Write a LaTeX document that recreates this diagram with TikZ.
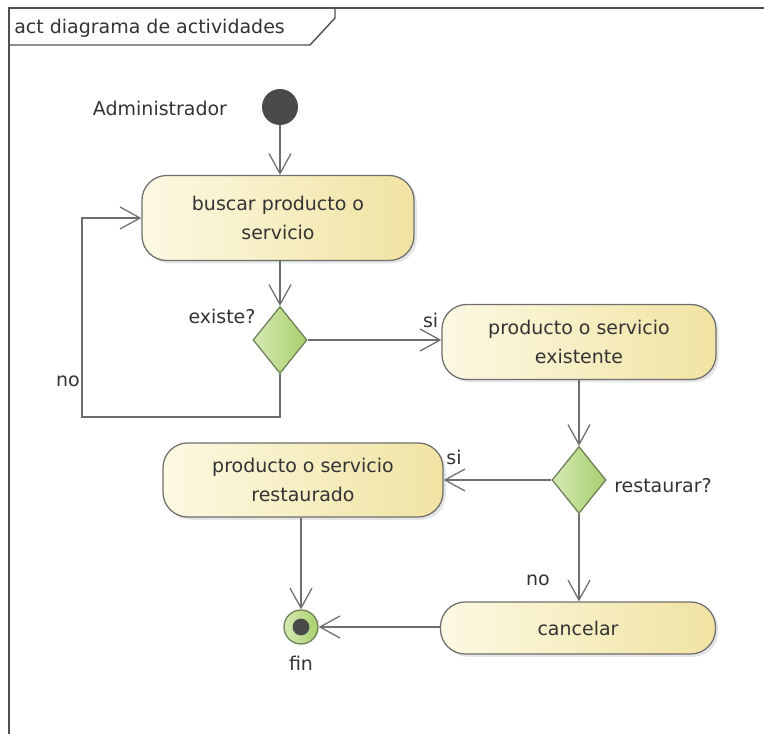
\documentclass[tikz,border=0pt]{standalone}
\usepackage{fontspec}
\setmainfont{DejaVu Sans}
\usepackage{xcolor}
\usepackage{tikz}
\usetikzlibrary{positioning, shapes, shapes.geometric, arrows.meta, shadows}

\definecolor{linea}{HTML}{6E6E6E}
\definecolor{marco}{HTML}{505050}
\definecolor{texto}{HTML}{333333}
\definecolor{accionL}{HTML}{FCF9E3}
\definecolor{accionR}{HTML}{F1E3A2}
\definecolor{decisionL}{HTML}{D6EAB5}
\definecolor{decisionR}{HTML}{A8CF6C}
\definecolor{decisionB}{HTML}{6C7F55}
\definecolor{nodoinicio}{HTML}{4A4A4A}

\tikzset{
	accion/.style={rectangle, rounded corners=0.62cm, draw=linea, line width=0.9pt,
		left color=accionL, right color=accionR, align=center, text=texto,
		font=\fontsize{13.5}{21}\selectfont,
		drop shadow={shadow xshift=0.07cm, shadow yshift=-0.07cm, opacity=0.2}},
	decision/.style={diamond, draw=decisionB, line width=0.9pt, inner sep=0pt,
		left color=decisionL, right color=decisionR,
		minimum width=1.35cm, minimum height=1.675cm},
	flecha/.style={draw=linea, line width=0.9pt, -{Straight Barb[length=0.5cm, width=0.55cm]}},
	etiqueta/.style={text=texto, font=\fontsize{13.5}{15}\selectfont, inner sep=0pt},
}

\begin{document}
\begin{tikzpicture}[x=0.025cm, y=-0.025cm]
	\useasboundingbox (0,0) rectangle (764,734);
	% Marco del diagrama:
	\draw[marco, line width=1pt] (764,8) -- (9,8) -- (9,734);
	\draw[marco, line width=1pt] (9,45) -- (310,45) -- (335,18) -- (335,8);
	\node[etiqueta, anchor=west](titulo) at (14,28){act diagrama de actividades};
	% Nodos:
	\node[circle, fill=nodoinicio, minimum size=0.9cm, inner sep=0pt](inicio) at (280,107){};
	\node[etiqueta](admin) at (160,108){Administrador};
	\node[accion, minimum width=6.8cm, minimum height=2.125cm](buscar) at (278,218){buscar producto o\\servicio};
	\node[decision](existe) at (280,340){};
	\node[etiqueta](pexiste) at (222,316){existe?};
	\node[accion, minimum width=6.85cm, minimum height=1.875cm](existente) at (579,342){producto o servicio\\existente};
	\node[decision](restaurar) at (579,480){};
	\node[etiqueta, anchor=west](prestaurar) at (614,486){restaurar?};
	\node[accion, minimum width=7cm, minimum height=1.85cm](restaurado) at (303,480){producto o servicio\\restaurado};
	\node[accion, minimum width=6.875cm, minimum height=1.3cm](cancelar) at (578,628){cancelar};
	\node[circle, draw=decisionB, line width=0.9pt, inner sep=0pt, minimum size=0.85cm,
		left color=decisionL, right color=decisionR](fin) at (301,627){};
	\node[circle, fill=nodoinicio, minimum size=0.42cm, inner sep=0pt] at (fin){};
	\node[etiqueta](pfin) at (301,663){fin};
	\coordinate (vuelta) at (82,417);
	% Conectores:
	\draw[flecha] (inicio) -- (inicio |- buscar.north);
	\draw[flecha] (existe.north |- buscar.south) -- (existe.north);
	\draw[flecha] (existe) -- (existe -| existente.west) node[etiqueta, pos=0.92, above=0.3cm]{si};
	\draw[flecha] (existe.south) |- (vuelta) |- (buscar.west);
	\node[etiqueta](pno) at (68,381){no};
	\draw[flecha] (restaurar.north |- existente.south) -- (restaurar.north);
	\draw[flecha] (restaurar) -- (restaurar -| restaurado.east);
	\node[etiqueta](psi) at (454,457){si};
	\draw[flecha] (restaurar) -- (restaurar |- cancelar.north);
	\node[etiqueta](pno2) at (538,580){no};
	\draw[flecha] (fin |- restaurado.south) -- (fin);
	\draw[flecha] (fin -| cancelar.west) -- (fin);
\end{tikzpicture}
\end{document}
